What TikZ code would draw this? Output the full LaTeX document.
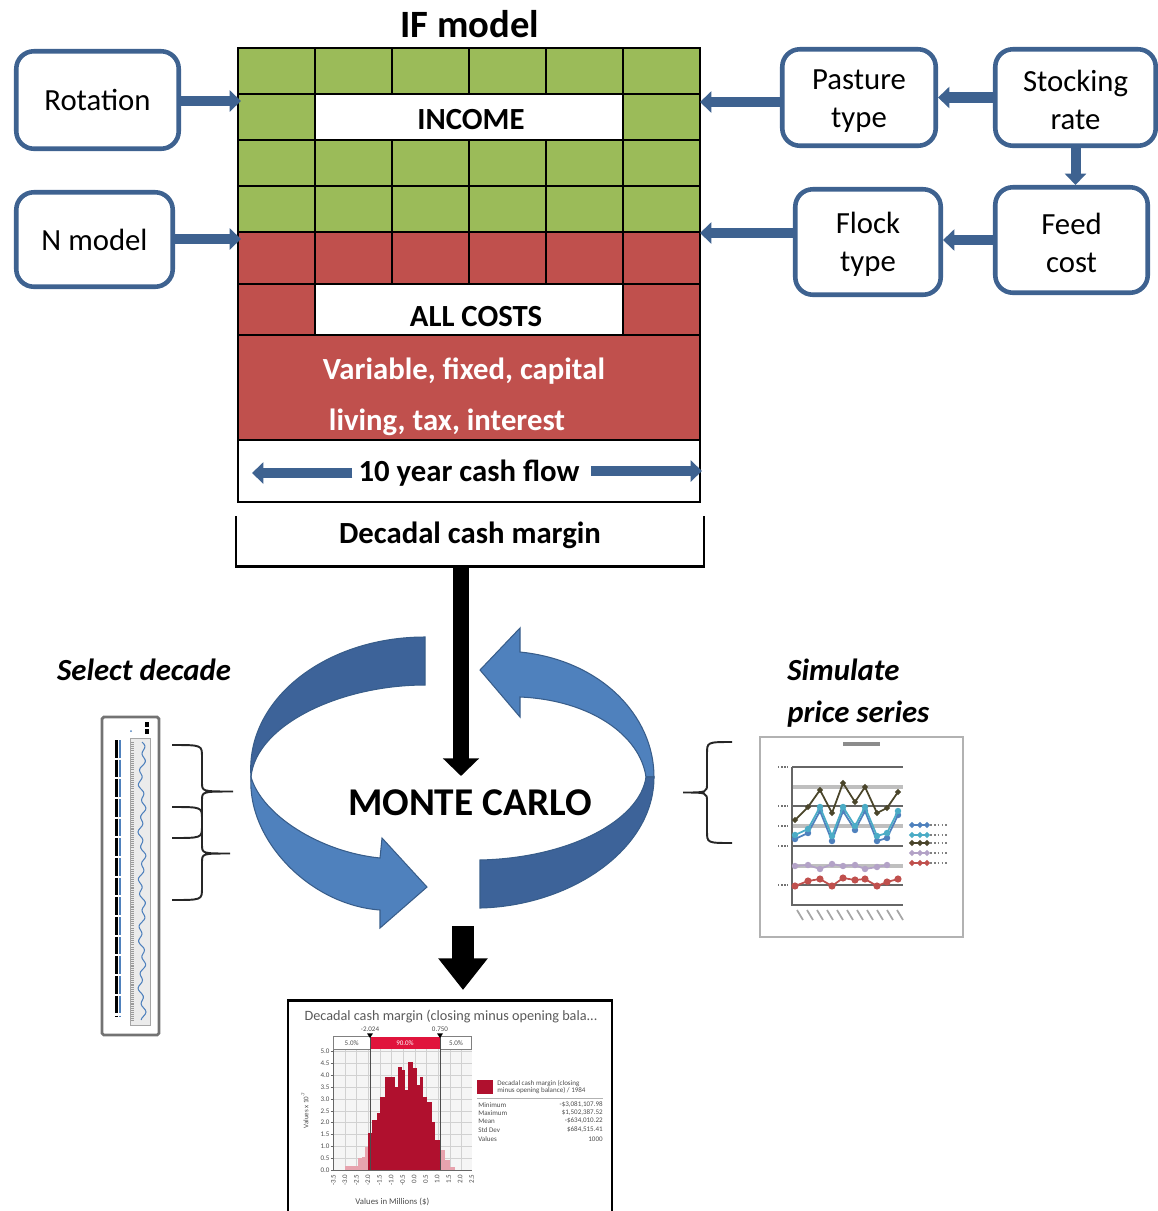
\documentclass[tikz,border=0pt]{standalone}
\usepackage{fontspec}
\setmainfont{Carlito}
\usetikzlibrary{arrows.meta,positioning}
\definecolor{boxblue}{HTML}{3E6290}
\definecolor{ringlight}{HTML}{4F81BD}
\definecolor{ringdark}{HTML}{3D6399}
\definecolor{ringedge}{HTML}{385D8A}
\definecolor{incgreen}{HTML}{9BBB59}
\definecolor{costred}{HTML}{C0504D}
\definecolor{histred}{HTML}{B0102E}
\definecolor{histpink}{HTML}{E7A3AE}
\definecolor{bandred}{HTML}{E0143C}
\definecolor{serolive}{HTML}{4A452A}
\definecolor{serblue}{HTML}{4F81BD}
\definecolor{sercyan}{HTML}{4BACC6}
\definecolor{serlav}{HTML}{B3A2C7}
\definecolor{serred}{HTML}{C0504D}
\newcommand{\boxfont}{\fontsize{17.5}{21.6}\selectfont}
\newcommand{\tinyfont}{\fontsize{4}{4.5}\selectfont}
\newcommand{\curly}[5]{%
	\pgfmathsetmacro{\ymid}{(#4+#5)/2}
	\draw[bracepen] (#1,#4) .. controls (#2,#4) .. (#2,{#4+12}) -- (#2,{\ymid-9})
		.. controls (#2,\ymid) .. (#3,\ymid) .. controls (#2,\ymid) .. (#2,{\ymid+9})
		-- (#2,{#5-12}) .. controls (#2,#5) .. (#1,#5);}

\begin{document}
\begin{tikzpicture}[x=0.02cm, y=-0.02cm,
	cbox/.style={draw=boxblue, line width=2.6pt, rounded corners=10pt, fill=white, align=center, font=\boxfont, inner sep=0pt},
	barrow/.style={draw=boxblue, line width=5.7pt, -{Triangle[length=6.5pt,width=12pt]}},
	karrow/.style={draw=black, line width=9pt, -{Triangle[length=10pt,width=20pt]}},
	cell/.style={draw=black, line width=0.8pt},
	ringpen/.style={draw=ringedge, line width=0.6pt},
	bracepen/.style={draw=black!85, line width=1.1pt},
	bold/.style={font=\boxfont\bfseries}]

	\useasboundingbox (0,0) rectangle (1157,1211);

	\foreach \c in {0,...,5}{
		\foreach \r in {0,...,3}
			\draw[cell, fill=incgreen] ({238+77*\c},{48+46*\r}) rectangle ++(77,46);
		\draw[cell, fill=costred] ({238+77*\c},232) rectangle ++(77,52);
	}
	\draw[cell, fill=costred] (238,284) rectangle (315,335);
	\draw[cell, fill=costred] (623,284) rectangle (700,335);
	\draw[cell, fill=white] (315,94) rectangle (623,140);
	\draw[cell, fill=white] (315,284) rectangle (623,335);
	\draw[cell, fill=costred] (238,335) rectangle (700,440);
	\draw[cell, fill=white] (238,440) rectangle (700,502);

	\node[font=\fontsize{22}{26}\selectfont\bfseries] (title) at (470,24) {IF model};
	\node[bold] (income) at (471,120) {INCOME};
	\node[bold] (costs) at (476,317) {ALL COSTS};
	\node[bold, text=white, anchor=base] (costs1) at (464,379) {Variable, fixed, capital};
	\node[bold, text=white, anchor=base] (costs2) at (447,430) {living, tax, interest};
	\node[bold, anchor=base] (cashflow) at (469,481) {10 year cash flow};
	\coordinate (cfL) at (252,473);
	\coordinate (cfR) at (702,471);
	\draw[barrow] (cashflow.west |- cfL) -- (cfL);
	\draw[barrow] ([xshift=3pt]cashflow.east |- cfR) -- (cfR);

	\node[cbox, minimum width=3.25cm, minimum height=1.95cm] (rot) at (97.5,100) {Rotation};
	\node[cbox, minimum width=3.13cm, minimum height=1.89cm] (nmod) at (94.5,239.5) {N model};
	\node[cbox, minimum width=3.07cm, minimum height=1.93cm] (past) at (859,97.5) {\strut Pasture\\type};
	\node[cbox, minimum width=3.21cm, minimum height=1.93cm] (stock) at (1075.5,97.5) {\strut Stocking\\rate};
	\node[cbox, minimum width=2.91cm, minimum height=2.11cm] (flock) at (868,242) {\strut Flock\\type};
	\node[cbox, minimum width=3.05cm, minimum height=2.11cm] (feed) at (1071.5,240) {\strut Feed\\cost};

	\coordinate (gridL1) at (241,101);
	\coordinate (gridL2) at (241,239);
	\coordinate (gridR1) at (700,102);
	\coordinate (gridR2) at (700,233);
	\draw[barrow] (rot.east |- gridL1) -- (gridL1);
	\draw[barrow] (nmod.east |- gridL2) -- (gridL2);
	\draw[barrow] (past.west |- gridR1) -- (gridR1);
	\draw[barrow] (stock.west) -- (past.east);
	\draw[barrow] (stock.south) -- (stock.south |- feed.north);
	\draw[barrow] (feed.west) -- (feed.west -| flock.east);
	\draw[barrow] (flock.west |- gridR2) -- (gridR2);

	\draw[line width=1.7pt] (236,516) -- (236,566) -- (704,566) -- (704,516);
	\node[bold, anchor=base] (dcm) at (470,543) {Decadal cash margin};
	\coordinate (dcmbot) at (461,566);

	\filldraw[ringdark, ringpen] (425,637) -- (425,685) .. controls (340,685) and (256,725) .. (251,777)
		.. controls (245,700) and (325,637) .. (425,637) -- cycle;
	\filldraw[ringlight, ringpen] (251,777) .. controls (262,815) and (320,852) .. (380,858) -- (382,838)
		-- (427,887) -- (380,928) -- (380,910) .. controls (310,905) and (247,840) .. (251,777) -- cycle;
	\filldraw[ringlight, ringpen] (480,670) -- (520,628) -- (520,652) .. controls (600,660) and (654,715) .. (654,777)
		-- (646,777) .. controls (640,735) and (590,700) .. (520,697) -- (520,717) -- cycle;
	\filldraw[ringdark, ringpen] (654,777) .. controls (654,850) and (570,906) .. (480,908) -- (480,860)
		.. controls (570,858) and (640,820) .. (646,777) -- cycle;

	\node[font=\fontsize{22.4}{26}\selectfont\bfseries, anchor=base] (mc) at (470,815) {MONTE CARLO};
	\coordinate (mctop) at (461,776);
	\draw[karrow] (dcmbot) -- (mctop);
	\coordinate (ringbot) at (463,926);
	\coordinate (histtop) at (463,990);
	\draw[karrow, line width=12.5pt, -{Triangle[length=18pt,width=27pt]}] (ringbot) -- (histtop);

	\node[font=\boxfont\bfseries\itshape, anchor=base] (seldec) at (144,680) {Select decade};
	\node[font=\boxfont\bfseries\itshape, anchor=base west, inner sep=0pt] (sim1) at (787,680) {Simulate};
	\node[font=\boxfont\bfseries\itshape, anchor=base west, inner sep=0pt] (sim2) at (787,722) {price series};

	\draw[black!55, line width=1.6pt, rounded corners=1pt] (102,717) rectangle (159,1035);
	\draw[black, line width=2.2pt, dash pattern=on 10pt off 1.2pt] (116.5,740) -- (116.5,1016);
	\draw[serblue, line width=1pt, dash pattern=on 10pt off 1.2pt] (120,740) -- (120,1016);
	\fill[black!8] (130,738) rectangle (150,1025);
	\draw[black!35, line width=0.5pt] (130,738) rectangle (150,1025);
	\draw[black!40, line width=1.2pt, dash pattern=on 0.6pt off 0.6pt] (132.5,742) -- (132.5,1022);
	\draw[serblue, line width=0.6pt] plot[domain=0:278, samples=140, smooth] ({142+2*sin(\x*23)+2*sin(\x*7)}, {742+\x});
	\fill[black] (145,722) rectangle (149,727);
	\fill[black] (145,729) rectangle (149,734);
	\fill[serblue] (131,731) circle (1);
	\curly{172}{202}{233}{745}{838}
	\curly{172}{202}{230}{807}{900}

	\curly{732}{707}{683}{742}{843}
	\draw[black!30, line width=1.2pt] (760,737) rectangle (963,937);
	\fill[black!45] (843,742) rectangle (880,746);
	\foreach \gy in {787,826,866}
		\draw[black!25, line width=1.8pt] (792,\gy) -- (903,\gy);
	\foreach \gy in {767,806,846,885}{
		\draw[black!60, line width=0.7pt] (792,\gy) -- (903,\gy);
		\draw[black!55, line width=1pt, dash pattern=on 0.8pt off 1pt] (778,\gy) -- (788,\gy);
	}
	\draw[black!55, line width=1pt, dash pattern=on 0.8pt off 1pt] (778,826) -- (788,826);
	\draw[black!60, line width=0.7pt] (792,767) -- (792,905) -- (903,905);
	\foreach \i in {0,...,10}
		\draw[black!35, line width=1pt] ({797+10*\i},910) -- ++(6,10);
	\draw[serolive, line width=1pt, mark=*, mark size=1.1pt] plot coordinates {(795,820) (808,807) (820,790) (832,813) (843,783) (855,802) (865,787) (877,813) (887,808) (898,792)};
	\draw[serblue, line width=1pt, mark=*, mark size=1.3pt] plot coordinates {(795,839) (808,833) (820,811) (832,841) (843,811) (855,830) (865,811) (877,841) (887,838) (898,815)};
	\draw[sercyan, line width=1pt, mark=*, mark size=1.3pt] plot coordinates {(795,835) (808,829) (820,807) (832,836) (843,807) (855,826) (865,807) (877,836) (887,833) (898,811)};
	\draw[serlav, line width=1pt, mark=*, mark size=1.3pt] plot coordinates {(795,866) (808,865) (820,869) (832,864) (843,866) (855,865) (865,869) (877,867) (887,865)};
	\draw[serred, line width=1pt, mark=*, mark size=1.5pt] plot coordinates {(795,886) (808,881) (820,879) (832,886) (843,878) (855,880) (865,879) (877,886) (887,882) (898,879)};
	\foreach \ly/\lc in {825/serblue,835/sercyan,843/serolive,853/serlav,863/serred}{
		\draw[\lc, line width=1pt, mark=*, mark size=1.1pt] plot coordinates {(912,\ly) (920,\ly) (927,\ly)};
		\draw[black!50, line width=0.8pt, dash pattern=on 1pt off 1.2pt] (930,\ly) -- (948,\ly);
	}

	\draw[black, line width=1.7pt] (288,1000) rectangle (612,1225);
	\node[font=\fontsize{8.1}{9}\selectfont, text=black!65] (histtitle) at (451,1017) {Decadal cash margin (closing minus opening bala...};
	\begin{scope}[shift={(280,990)}, scale=1/3]
		\fill[black!4] (160,178) rectangle (575,540);
		\foreach \gx in {195,230,...,575}
			\draw[black!18, line width=0.3pt] (\gx,178) -- (\gx,540);
		\foreach \v/\lab in {0/0.0,1/0.5,2/1.0,3/1.5,4/2.0,5/2.5,6/3.0,7/3.5,8/4.0,9/4.5,10/5.0}{
			\draw[black!18, line width=0.3pt] (160,{540-35.5*\v}) -- (575,{540-35.5*\v});
			\draw[black!60, line width=0.3pt] (152,{540-35.5*\v}) -- (160,{540-35.5*\v});
			\node[font=\tinyfont, text=black!70, anchor=east, inner sep=0.5pt] at (152,{540-35.5*\v}) {\lab};
		}
		\foreach \xl/\xr/\yt in {195/215/528,215/235/528,235/245/505,245/255/500,255/265/470,480/495/480,495/510/510,510/525/530}
			\fill[histpink] (\xl,540) rectangle (\xr,\yt);
		\foreach \xl/\xr/\yt in {265/275/430,275/290/390,290/300/370,300/315/320,315/335/262,335/345/262,345/355/290,355/365/230,365/375/240,375/385/300,385/400/215,400/410/235,410/420/285,420/430/260,430/440/320,440/455/335,455/465/395,465/480/450}
			\fill[histred] (\xl,540) rectangle (\xr,\yt);
		\draw[black!60, line width=0.4pt] (160,178) -- (160,540) -- (575,540);
		\draw[black!50, line width=0.3pt] (160,140) rectangle (270,178);
		\fill[bandred] (270,140) rectangle (480,178);
		\draw[black!50, line width=0.3pt] (480,140) rectangle (575,178);
		\node[font=\tinyfont, text=black!70] at (215,159) {5.0\%};
		\node[font=\tinyfont, text=white] at (375,159) {90.0\%};
		\node[font=\tinyfont, text=black!70] at (528,159) {5.0\%};
		\draw[black!70, line width=0.5pt] (270,140) -- (270,540);
		\draw[black!70, line width=0.5pt] (480,140) -- (480,540);
		\fill[black] (261,130) -- (279,130) -- (270,144) -- cycle;
		\fill[black] (471,130) -- (489,130) -- (480,144) -- cycle;
		\node[font=\tinyfont, text=black!70] at (270,118) {-2.024};
		\node[font=\tinyfont, text=black!70] at (480,118) {0.750};
		\foreach \lab [count=\i from 0] in {-3.5,-3.0,-2.5,-2.0,-1.5,-1.0,-0.5,0.0,0.5,1.0,1.5,2.0,2.5}
			\node[font=\tinyfont, text=black!70, rotate=90, anchor=east, inner sep=0.5pt] at ({160+34.6*\i},550) {\lab};
		\node[font=\tinyfont, text=black!70, rotate=90] at (75,360) {Values x 10\textsuperscript{-7}};
		\node[font=\fontsize{5}{6}\selectfont, text=black!70] at (337,635) {Values in Millions (\$)};
	\end{scope}
	\fill[histred] (477,1080) rectangle (493,1094);
	\node[font=\tinyfont, text=black!70, anchor=west, align=left, inner sep=0pt] at (497,1087) {Decadal cash margin (closing\\minus opening balance) / 1984};
	\draw[black!30, line width=0.4pt] (477,1098) -- (603,1098);
	\foreach \sy/\sname/\sval in {{1105/Minimum/-\$3,081,107.98},{1113/Maximum/\$1,502,387.52},{1121/Mean/-\$634,010.22},{1130/Std Dev/\$684,515.41},{1139/Values/1000}}{
		\node[font=\tinyfont, text=black!70, anchor=west, inner sep=0pt] at (478,\sy) {\sname};
		\node[font=\tinyfont, text=black!70, anchor=east, inner sep=0pt] at (603,\sy) {\sval};
	}

\end{tikzpicture}
\end{document}
